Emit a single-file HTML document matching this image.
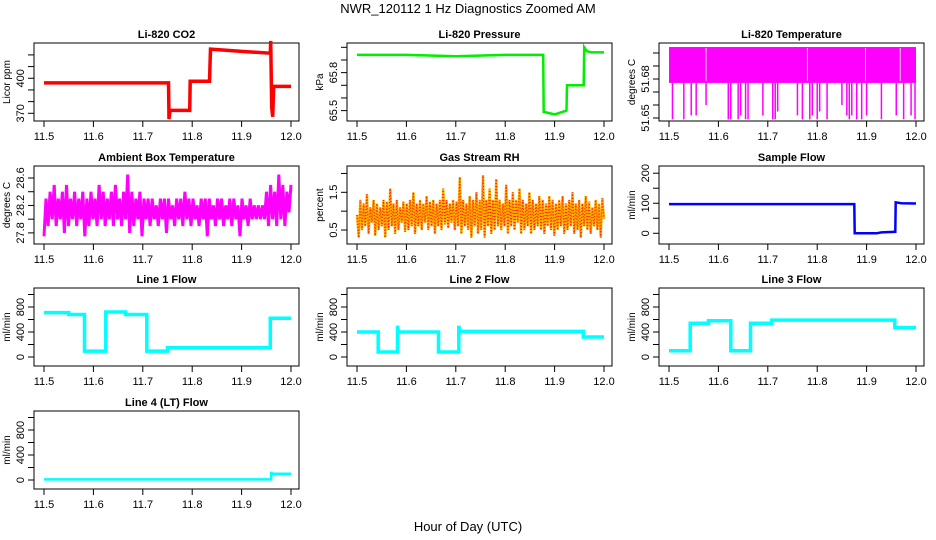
<!DOCTYPE html>
<html><head><meta charset="utf-8"><style>
body{margin:0;background:#fff;}
svg{display:block;font-family:"Liberation Sans",Arial,sans-serif;}
</style></head><body>
<svg id="c" width="936" height="540" viewBox="0 0 936 540">
<text x="468" y="13" text-anchor="middle" font-size="13">NWR_120112  1 Hz Diagnostics Zoomed AM</text>
<text x="468" y="531" text-anchor="middle" font-size="13">Hour of Day (UTC)</text>
</svg>
<script>
const xTicks=[11.5,11.6,11.7,11.8,11.9,12.0];
const xTickLabels=["11.5","11.6","11.7","11.8","11.9","12.0"];
const co2T=[11.5,11.752,11.753,11.755,11.795,11.796,11.835,11.837,11.9,11.958,11.959,11.961,11.963,11.965,12.0];
const co2V=[396,396,365,372.5,372.5,397.5,397.5,425,423,421.5,432,375,367,393,393];
const presT=[11.5,11.6,11.7,11.8,11.877,11.878,11.9,11.924,11.925,11.959,11.96,11.965,11.975,12.0];
const presV=[65.94,65.94,65.93,65.94,65.94,65.49,65.47,65.5,65.70,65.70,66.0,65.97,65.96,65.96];
const ltTop=51.7046, ltBand=51.677;
const ltSpikeT=[11.507,11.53,11.545,11.555,11.575,11.62,11.625,11.64,11.645,11.655,11.66,11.69,11.71,11.715,11.72,11.76,11.77,11.785,11.79,11.8,11.805,11.82,11.85,11.86,11.865,11.87,11.88,11.89,11.9,11.93,11.96,11.975,11.99,11.998];
const ltSpikeV=[51.649,51.649,51.652,51.652,51.66,51.649,51.649,51.649,51.652,51.649,51.649,51.652,51.649,51.649,51.655,51.652,51.649,51.649,51.652,51.649,51.655,51.649,51.66,51.652,51.649,51.652,51.649,51.649,51.652,51.649,51.652,51.649,51.652,51.649];
const ltGapT=[11.575,11.78,11.898,11.968];
const boxTempV=[27.75,28.3,27.9,28.4,28.0,28.5,27.9,28.3,28.0,28.4,27.8,28.5,27.9,28.3,28.0,28.4,27.9,28.3,28.0,28.4,27.75,28.3,27.9,28.4,28.0,28.3,27.9,28.5,28.0,28.4,27.9,28.3,28.0,28.4,27.9,28.5,28.0,28.3,27.9,28.4,28.0,28.65,27.8,28.4,27.9,28.3,28.0,28.4,
27.75,28.3,28.0,28.3,27.9,28.3,28.0,28.2,27.9,28.3,28.0,28.3,27.8,28.3,28.0,28.2,27.9,28.3,28.0,28.3,27.9,28.4,28.0,28.3,27.9,28.3,28.0,28.2,27.9,28.3,28.0,28.3,27.75,28.3,28.0,28.2,27.9,28.3,28.0,28.3,27.9,28.2,28.0,28.3,27.9,28.3,28.0,28.2,27.75,28.3,28.0,28.2,27.9,28.3,28.0,28.2,28.0,28.2,28.0,28.2,
28.0,28.4,27.9,28.5,28.0,28.4,27.9,28.65,28.0,28.5,27.9,28.4,28.1,28.5];
const rhV=[0.9,0.3,1.3,0.5,1.2,0.6,1.45,0.4,1.1,0.7,1.3,0.35,1.2,0.5,1.1,0.6,1.3,0.3,1.25,0.5,1.6,0.6,1.2,0.4,1.3,0.5,1.1,0.7,1.25,0.45,
1.2,0.5,1.3,0.6,1.5,0.4,1.2,0.6,1.3,0.5,1.2,0.7,1.4,0.5,1.25,0.6,1.3,0.4,1.2,0.6,1.3,0.5,1.6,0.65,1.3,0.55,1.2,0.7,1.3,0.5,
1.25,0.6,1.9,0.4,1.3,0.6,1.2,0.5,1.4,0.3,1.3,0.6,1.5,0.4,1.3,0.5,1.95,0.3,1.3,0.6,1.6,0.4,1.3,0.5,1.85,0.6,1.3,0.5,1.2,0.6,
1.7,0.4,1.3,0.6,1.5,0.5,1.3,0.7,1.6,0.4,1.3,0.5,1.2,0.6,1.5,0.4,1.3,0.5,1.2,0.6,1.4,0.5,1.3,0.4,1.2,0.6,1.4,0.5,1.3,0.35,
1.2,0.5,1.3,0.6,1.4,0.4,1.2,0.5,1.3,0.6,1.5,0.4,1.2,0.5,1.3,0.3,1.2,0.6,1.4,0.5,1.25,0.4,1.1,0.6,1.3,0.5,1.2,0.3,1.35,0.8];
const sfT=[11.5,11.875,11.876,11.92,11.93,11.958,11.959,11.97,12.0];
const sfV=[97,97,0,0,3,5,103,100,99];
const l1T=[11.5,11.55,11.55,11.582,11.582,11.625,11.625,11.665,11.665,11.708,11.708,11.75,11.75,11.958,11.958,12.0];
const l1V=[710,710,680,680,95,95,720,720,680,680,95,95,150,150,620,620];
const l2T=[11.5,11.543,11.543,11.582,11.582,11.584,11.665,11.665,11.706,11.706,11.708,11.958,11.958,12.0];
const l2V=[400,400,80,80,500,400,400,80,80,500,410,410,320,320];
const l3T=[11.5,11.543,11.543,11.58,11.58,11.625,11.625,11.665,11.665,11.708,11.708,11.957,11.957,12.0];
const l3V=[100,100,540,540,580,580,100,100,540,540,590,590,470,470];
const l4T=[11.5,11.96,11.96,11.962,12.0];
const l4V=[10,10,130,100,100];

const NS="http://www.w3.org/2000/svg";
const svg=document.getElementById('c');
const colL=[34,347,659], rowT=[43,166,288,411], W=265, H=78;
function mk(tag,attrs,parent){const e=document.createElementNS(NS,tag);for(const k in attrs)e.setAttribute(k,attrs[k]);(parent||svg).appendChild(e);return e;}

function panel(col,row,o){
  const L=colL[col],T=rowT[row];
  const g=mk('g',{});
  
  
  const xs=t=>L+10+(t-11.5)/0.5*(W-18);
  const ys=v=>T+H-(v-o.ymin)/(o.ymax-o.ymin)*H;
  const tt=mk('text',{x:L+W/2,y:T-5,'text-anchor':'middle','font-size':11,'font-weight':'bold'},g);
  tt.textContent=o.title;
  
  
  const bx=mk('rect',{x:L,y:T,width:W,height:H,fill:'none',stroke:'#000','stroke-width':1},g);
  
  
  const xa=mk('g',{},g);
  
  
  mk('line',{x1:xs(11.5),x2:xs(12),y1:T+H,y2:T+H,stroke:'#000'},xa);
  xTicks.forEach((t,i)=>{
    mk('line',{x1:xs(t),x2:xs(t),y1:T+H,y2:T+H+6,stroke:'#000'},xa);
    const tx=mk('text',{x:xs(t),y:T+H+19,'text-anchor':'middle','font-size':11},xa);
    tx.textContent=xTickLabels[i];
  });
  const ya=mk('g',{},g);
  
  
  mk('line',{x1:L,x2:L,y1:ys(o.yt[0]),y2:ys(o.yt[o.yt.length-1]),stroke:'#000'},ya);
  o.yt.forEach(v=>mk('line',{x1:L-6,x2:L,y1:ys(v),y2:ys(v),stroke:'#000'},ya));
  o.yl.forEach(v=>{
    const y=ys(v);
    const tx=mk('text',{x:L-10,y:y,'text-anchor':'middle','font-size':11,transform:`rotate(-90 ${L-10} ${y})`},ya);
    tx.textContent=String(v);
  });
  const yt=mk('text',{x:L-24,y:T+H/2,'text-anchor':'middle','font-size':10,transform:`rotate(-90 ${L-24} ${T+H/2})`},g);
  yt.textContent=o.ylab;
  
  
  return {g,xs,ys};
}
function line(p,T,V,color,w,name){
  const pts=T.map((t,i)=>p.xs(t).toFixed(1)+','+p.ys(V[i]).toFixed(1)).join(' ');
  const e=mk('polyline',{points:pts,fill:'none',stroke:color,'stroke-width':w,'stroke-linejoin':'miter'},p.g);
  
  
  return e;
}
function evenT(n){return Array.from({length:n},(_,i)=>11.5+0.5*i/(n-1));}

let p;
p=panel(0,0,{name:'co2',title:'Li-820 CO2',ylab:'Licor ppm',ymin:363.4,ymax:430.2,yt:[370,380,390,400,410,420],yl:[370,400]});
line(p,co2T,co2V,'#ff0000',3.5,'co2-line');
p=panel(1,0,{name:'pressure',title:'Li-820 Pressure',ylab:'kPa',ymin:65.418,ymax:66.034,yt:[65.5,65.6,65.7,65.8,65.9,66.0],yl:[65.5,65.8]});
line(p,presT,presV,'#00ee00',2.5,'pressure-line');
p=panel(2,0,{name:'li820-temp',title:'Li-820 Temperature',ylab:'degrees C',ymin:51.6477,ymax:51.7077,yt:[51.65,51.66,51.67,51.68,51.69,51.70],yl:[51.65,51.68]});
{
  const r=mk('rect',{x:p.xs(11.5),y:p.ys(ltTop),width:p.xs(12)-p.xs(11.5),height:p.ys(ltBand)-p.ys(ltTop),fill:'#ff00ff'},p.g);
  
  
  ltSpikeT.forEach((t,i)=>{
    const s=mk('line',{x1:p.xs(t),x2:p.xs(t),y1:p.ys(ltBand),y2:p.ys(ltSpikeV[i]),stroke:'#ff00ff','stroke-width':1.5},p.g);
    
    
  });
  ltGapT.forEach(t=>{
    const s=mk('line',{x1:p.xs(t),x2:p.xs(t),y1:p.ys(ltTop)+1,y2:p.ys(ltBand)-2,stroke:'#ffffff','stroke-width':0.8},p.g);
    
    
  });
}
p=panel(0,1,{name:'box-temp',title:'Ambient Box Temperature',ylab:'degrees C',ymin:27.638,ymax:28.775,yt:[27.8,28.0,28.2,28.4,28.6],yl:[27.8,28.2,28.6]});
line(p,evenT(boxTempV.length),boxTempV,'#ff00ff',3,'box-temp-line');
p=panel(1,1,{name:'rh',title:'Gas Stream RH',ylab:'percent',ymin:0.129,ymax:2.198,yt:[0.5,1.0,1.5,2.0],yl:[0.5,1.5]});
{
  const tt=evenT(rhV.length);
  line(p,tt,rhV,'#ffb000',2.4,'rh-line');
  const d=line(p,tt,rhV,'#ff2000',1.4,'rh-points');
  d.setAttribute('stroke-dasharray','1 2');
}
p=panel(2,1,{name:'sample-flow',title:'Sample Flow',ylab:'ml/min',ymin:-35.7,ymax:224,yt:[0,50,100,150,200],yl:[0,100,200]});
line(p,sfT,sfV,'#0000ff',2.5,'sample-flow-line');
const flowOpt={ylab:'ml/min',ymin:-144,ymax:1104,yt:[0,200,400,600,800,1000],yl:[0,400,800]};
p=panel(0,2,Object.assign({name:'line1-flow',title:'Line 1 Flow'},flowOpt));
line(p,l1T,l1V,'#00ffff',3.5,'line1-flow-line');
p=panel(1,2,Object.assign({name:'line2-flow',title:'Line 2 Flow'},flowOpt));
line(p,l2T,l2V,'#00ffff',3.5,'line2-flow-line');
p=panel(2,2,Object.assign({name:'line3-flow',title:'Line 3 Flow'},flowOpt));
line(p,l3T,l3V,'#00ffff',3.5,'line3-flow-line');
p=panel(0,3,Object.assign({name:'line4-flow',title:'Line 4 (LT) Flow'},flowOpt));
line(p,l4T,l4V,'#00ffff',2.5,'line4-flow-line');
</script>
</body></html>
